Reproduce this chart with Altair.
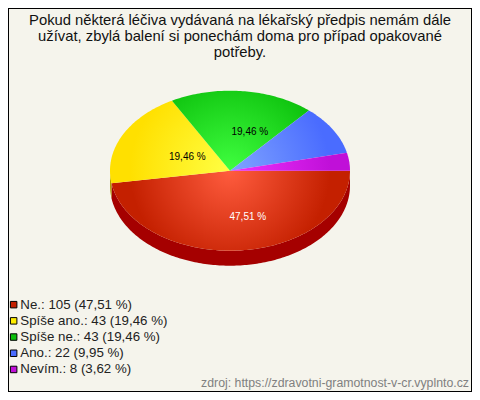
import math
import altair as alt
import pandas as pd

CATEGORIES = ["Ne.", "Spíše ano.", "Spíše ne.", "Ano.", "Nevím."]
COUNTS = [105, 43, 43, 22, 8]
PERCENT_TEXT = ["47,51", "19,46", "19,46", "9,95", "3,62"]
TITLE_LINES = [
    "Pokud některá léčiva vydávaná na lékařský předpis nemám dále",
    "užívat, zbylá balení si ponechám doma pro případ opakované",
    "potřeby.",
]
FOOTER = "zdroj: https://zdravotni-gramotnost-v-cr.vyplnto.cz"
SWATCH = ["#c42000", "#ffee00", "#0cc00c", "#4a6cff", "#c010d8"]
INNER = ["#ff5c3e", "#ffff44", "#40ff40", "#80a4ff", "#f030ff"]
OUTER = ["#c42000", "#ffe000", "#0cc00c", "#4a6cff", "#c010d8"]
WALL = ["#a50000", "#b0a000", "#088008", "#3048b0", "#800090"]

W, H = 464, 384
CX, CY = 222.0, 162.7
RX, RY = 120.0, 80.0
DEPTH = 15.0 / RY

xscale = alt.Scale(domain=[-CX / RX, (W - CX) / RX], range=[0, W])
yscale = alt.Scale(domain=[(H - CY) / RY, -CY / RY], range=[H, 0])
X = lambda f="x": alt.X(f, type="quantitative", scale=xscale, axis=None)
Y = lambda f="y": alt.Y(f, type="quantitative", scale=yscale, axis=None)

total = sum(COUNTS)
layers = []
start = 0.0
bounds = []
for c in COUNTS:
    end = start + c / total * 360
    bounds.append((start, end))
    start = end


def arc_angles(a, b):
    n = max(2, int(b - a) + 1)
    return [a + (b - a) * k / (n - 1) for k in range(n)]


# Side wall below the rim (visible for front-facing slices only)
for (a, b), col in zip(bounds, WALL):
    lo, hi = a, min(b, 180.0)
    if lo < 180:
        angs = arc_angles(lo, hi)
        df = pd.DataFrame({
            "x": [math.cos(math.radians(t)) for t in angs],
            "y": [math.sin(math.radians(t)) for t in angs],
        })
        df["y2"] = df["y"] + DEPTH
        layers.append(
            alt.Chart(df).mark_area(color=col, opacity=1).encode(
                x=X(), y=Y(), y2=alt.Y2("y2")
            )
        )

# Top face wedges
for (a, b), c0, c1 in zip(bounds, INNER, OUTER):
    angs = arc_angles(a, b)
    xs = [0.0] + [math.cos(math.radians(t)) for t in angs] + [0.0]
    ys = [0.0] + [math.sin(math.radians(t)) for t in angs] + [0.0]
    df = pd.DataFrame({"x": xs, "y": ys, "i": range(len(xs))})
    x0, x1 = min(xs) * RX, max(xs) * RX
    y0, y1 = min(ys) * RY, max(ys) * RY
    w, h = x1 - x0, y1 - y0
    m = max(w, h)
    u = 0.5 + (0 - (x0 + x1) / 2) / m
    v = 0.5 + (0 - (y0 + y1) / 2) / m
    grad = alt.RadialGradient(
        gradient="radial",
        x1=u, y1=v, r1=0, x2=u, y2=v, r2=100 / m,
        stops=[alt.GradientStop(color=c0, offset=0), alt.GradientStop(color=c1, offset=1)],
    )
    layers.append(
        alt.Chart(df).mark_line(fill=grad, stroke=None, interpolate="linear").encode(
            x=X(), y=Y(), order=alt.Order("i:Q")
        )
    )

# Legend
labels = [f"{n}: {c} ({p} %)" for n, c, p in zip(CATEGORIES, COUNTS, PERCENT_TEXT)]
legend_df = pd.DataFrame({"label": labels})
layers.append(
    alt.Chart(legend_df).mark_point(filled=True, shape="square", size=0, opacity=1).encode(
        x=alt.value(-50), y=alt.value(-50),
        color=alt.Color(
            "label:N",
            scale=alt.Scale(domain=labels, range=SWATCH),
            legend=alt.Legend(
                title=None, orient="none", legendX=-1, legendY=290, symbolType="square",
                symbolSize=42, symbolStrokeColor="black", symbolStrokeWidth=1, symbolOpacity=1,
                labelFont="Liberation Sans", labelFontSize=13.3, labelColor="#222222",
                labelOffset=0, rowPadding=2.2, labelLimit=300, padding=0,
            ),
        ),
    )
)


def text(t, x, y, size, color="#111111", align="center"):
    return (
        alt.Chart(pd.DataFrame({"t": [t]}))
        .mark_text(font="Liberation Sans", fontSize=size, color=color, align=align, baseline="middle")
        .encode(text="t:N", x=alt.value(x), y=alt.value(y))
    )


for line, y in zip(TITLE_LINES, [13, 29, 45]):
    layers.append(text(line, 232, y, 14.8))
layers.append(text(FOOTER, 461, 375, 12.3, "#808080", "right"))
layers.append(text("47,51 %", 221.5, 209, 10, "#ffffff", "left"))
layers.append(text("19,46 %", 161, 149, 10, "#000000", "left"))
layers.append(text("19,46 %", 223.5, 124, 10, "#000000", "left"))

chart = (
    alt.layer(*layers)
    .properties(width=W, height=H, padding=0, autosize=alt.AutoSizeParams(type="none"), background="#f5f4ec")
    .configure_view(stroke="#000000", strokeWidth=2)
)
chart.save("out.html", embed_options={"renderer": "svg", "actions": False})
